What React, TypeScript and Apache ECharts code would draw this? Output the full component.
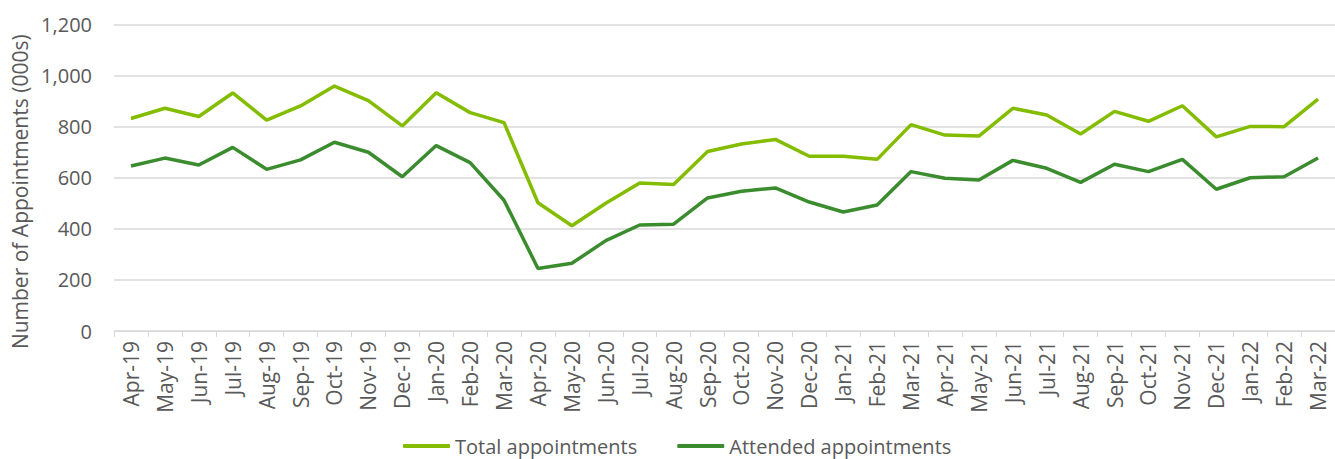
import React, { useEffect, useRef } from "react";
import * as echarts from "echarts";

const months: string[] = [
  "Apr-19", "May-19", "Jun-19", "Jul-19", "Aug-19", "Sep-19", "Oct-19", "Nov-19", "Dec-19",
  "Jan-20", "Feb-20", "Mar-20", "Apr-20", "May-20", "Jun-20", "Jul-20", "Aug-20", "Sep-20",
  "Oct-20", "Nov-20", "Dec-20", "Jan-21", "Feb-21", "Mar-21", "Apr-21", "May-21", "Jun-21",
  "Jul-21", "Aug-21", "Sep-21", "Oct-21", "Nov-21", "Dec-21", "Jan-22", "Feb-22", "Mar-22",
];

const totalAppointments: number[] = [
  832, 872, 840, 932, 826, 881, 959, 902, 803,
  933, 855, 816, 502, 412, 500, 579, 574, 703,
  732, 750, 684, 684, 672, 808, 767, 763, 872,
  846, 771, 860, 821, 882, 760, 801, 800, 908,
];

const attendedAppointments: number[] = [
  646, 677, 650, 719, 633, 670, 739, 700, 604,
  726, 659, 512, 245, 265, 354, 415, 418, 521,
  547, 560, 505, 466, 493, 624, 598, 591, 668,
  637, 582, 653, 624, 672, 555, 600, 604, 677,
];

const yTicks = { min: 0, max: 1200, interval: 200 };

const seriesNames = ["Total appointments", "Attended appointments"];
const colors = ["#84bd00", "#3b8c2e"];
const textColor = "#595959";
const gridColor = "#d9d9d9";
const fontFamily = "'Open Sans', 'Noto Sans', sans-serif";

export default function App() {
  const ref = useRef<HTMLDivElement>(null);

  useEffect(() => {
    if (!ref.current) return;
    const chart = echarts.init(ref.current, null, { renderer: "svg" });
    chart.setOption({
      animation: false,
      backgroundColor: "#ffffff",
      textStyle: { fontFamily },
      grid: { left: 114, top: 24.5, width: 1231, height: 306.5, containLabel: false },
      legend: {
        left: 398,
        top: 431,
        itemGap: 40,
        itemWidth: 47,
        itemHeight: 4,
        icon: "roundRect",
        textStyle: { color: textColor, fontSize: 20, fontFamily },
        data: seriesNames,
      },
      xAxis: {
        type: "category",
        data: months,
        boundaryGap: true,
        axisLine: { show: true, lineStyle: { color: gridColor, width: 1 } },
        axisTick: { show: true, length: 6, lineStyle: { color: gridColor } },
        axisLabel: {
          rotate: 90,
          interval: 0,
          margin: 10,
          color: textColor,
          fontSize: 21,
          fontFamily,
        },
        splitLine: { show: false },
      },
      yAxis: {
        type: "value",
        min: yTicks.min,
        max: yTicks.max,
        interval: yTicks.interval,
        name: "Number of Appointments (000s)",
        nameLocation: "middle",
        nameGap: 80,
        nameRotate: 90,
        nameTextStyle: { color: textColor, fontSize: 21, fontFamily, padding: [0, 28, 0, 0] },
        axisLine: { show: false },
        axisTick: { show: false },
        axisLabel: {
          margin: 22,
          color: textColor,
          fontSize: 20,
          fontFamily,
          formatter: (v: number) => v.toLocaleString("en-US"),
        },
        splitLine: { show: true, lineStyle: { color: gridColor, width: 1.5 } },
      },
      series: [
        {
          name: seriesNames[0],
          type: "line",
          data: totalAppointments,
          symbol: "none",
          lineStyle: { color: colors[0], width: 3.5 },
          itemStyle: { color: colors[0] },
        },
        {
          name: seriesNames[1],
          type: "line",
          data: attendedAppointments,
          symbol: "none",
          lineStyle: { color: colors[1], width: 3.5 },
          itemStyle: { color: colors[1] },
        },
      ],
    });
    return () => chart.dispose();
  }, []);

  return (
    <div
      ref={ref}
      style={{ position: "fixed", left: 0, top: 0, width: 1335, height: 459, overflow: "hidden" }}
    />
  );
}
